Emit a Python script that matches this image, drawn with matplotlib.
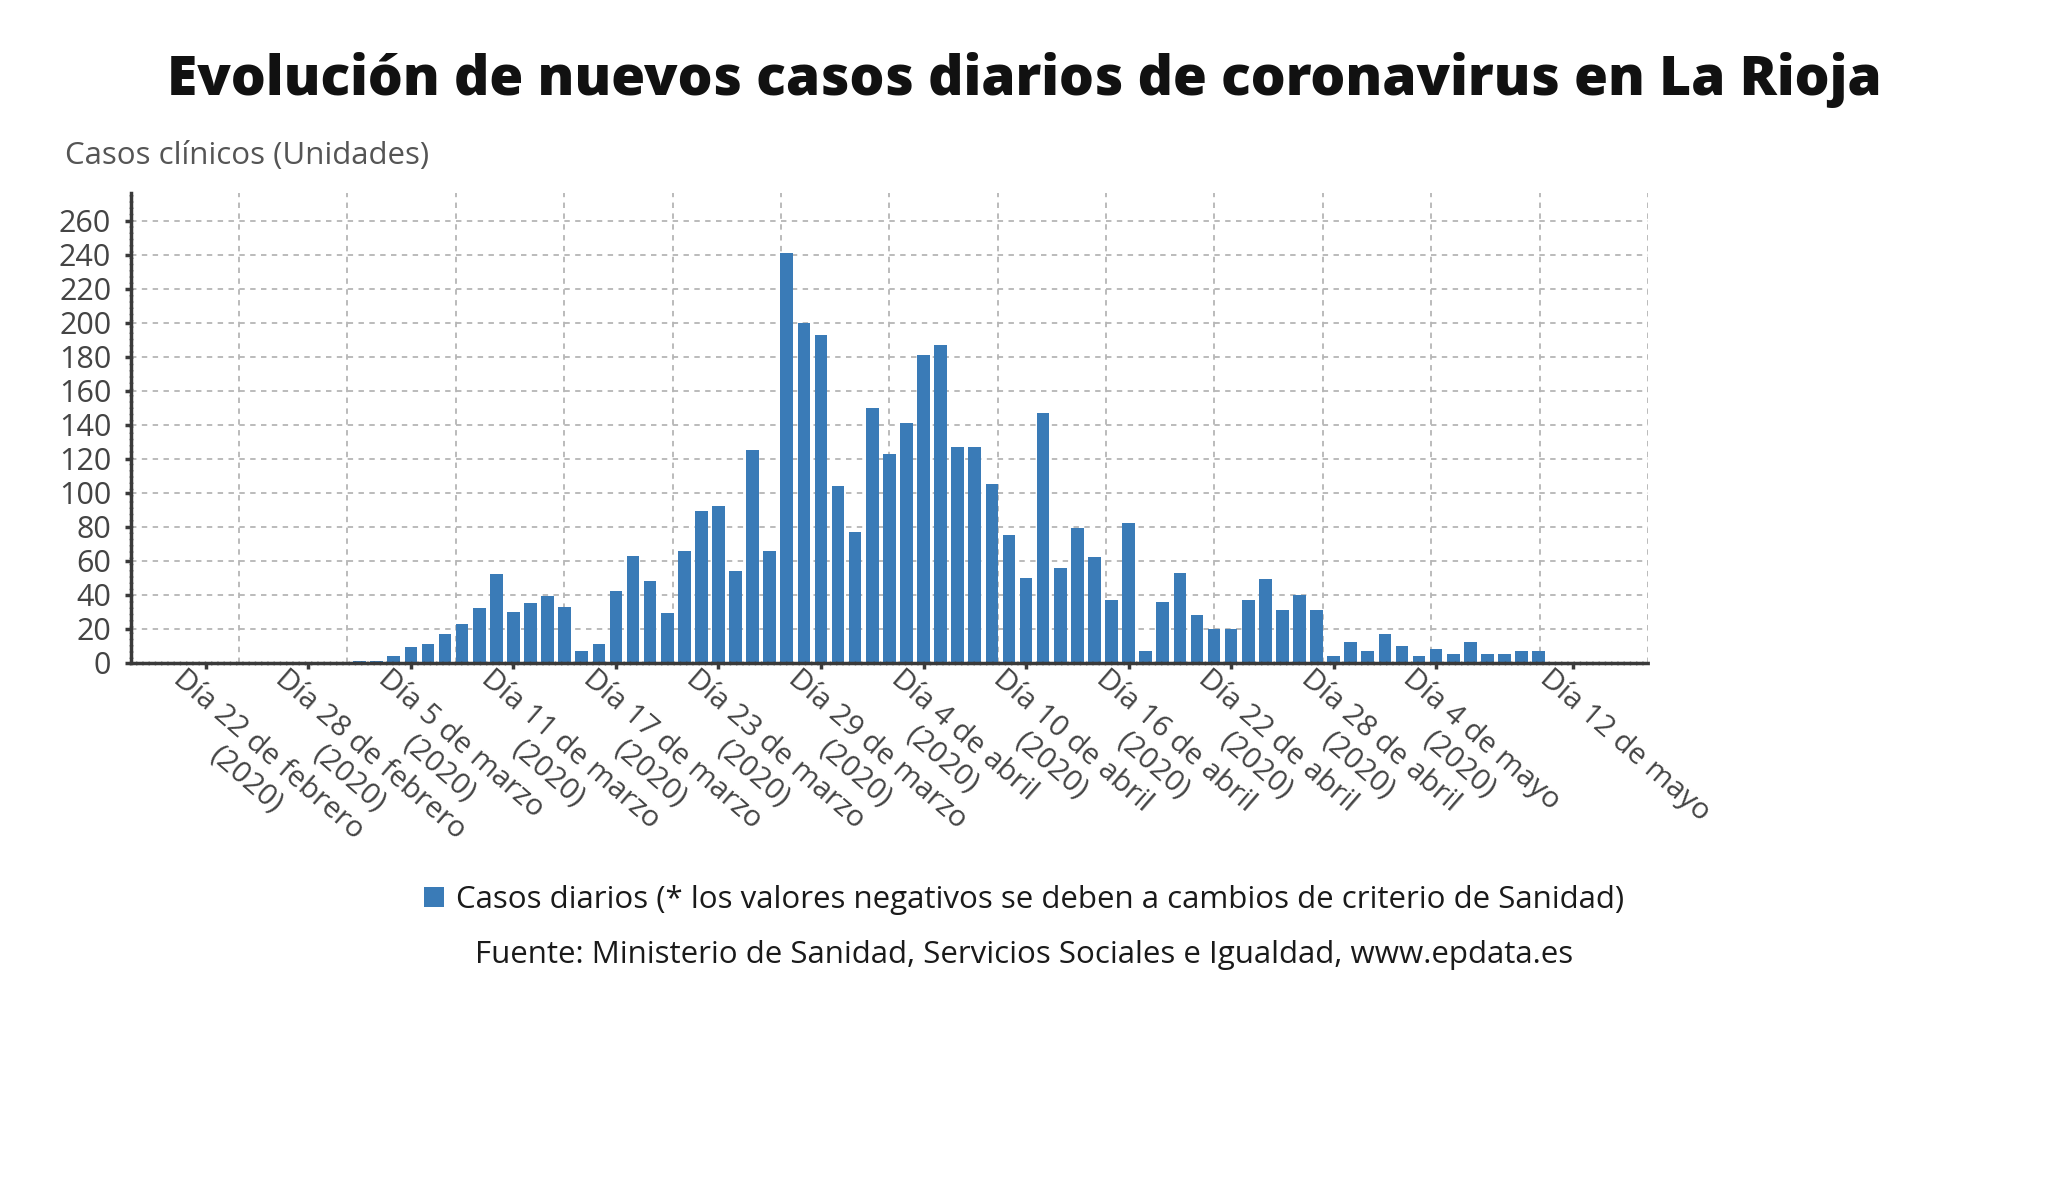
import matplotlib
matplotlib.use("Agg")
import matplotlib.pyplot as plt
from matplotlib.patches import Patch
import numpy as np
import pandas as pd

plt.rcParams['font.family'] = ['Open Sans', 'DejaVu Sans']

# ---------------- data ----------------
start_date = "2020-02-22"
end_date = "2020-05-10"
feb_values = [0, 0, 0, 0, 0, 0, 0, 0]                      # 22-29 Feb
mar_values = [0, 1, 1, 4, 9, 11, 17, 23, 32, 52, 30, 35, 39, 33, 7, 11,
              42, 63, 48, 29, 66, 89, 92, 54, 125, 66, 241, 200, 193, 104, 77]
apr_values = [150, 123, 141, 181, 187, 127, 127, 105, 75, 50, 147, 56, 79, 62, 37,
              82, 7, 36, 53, 28, 20, 20, 37, 49, 31, 40, 31, 4, 12, 7]
may_values = [17, 10, 4, 8, 5, 12, 5, 5, 7, 7]

tick_dates = ["2020-02-22", "2020-02-28", "2020-03-05", "2020-03-11", "2020-03-17",
              "2020-03-23", "2020-03-29", "2020-04-04", "2020-04-10", "2020-04-16",
              "2020-04-22", "2020-04-28", "2020-05-04", "2020-05-12"]
tick_labels = ["Día 22 de febrero\n(2020)", "Día 28 de febrero\n(2020)",
               "Día 5 de marzo\n(2020)", "Día 11 de marzo\n(2020)",
               "Día 17 de marzo\n(2020)", "Día 23 de marzo\n(2020)",
               "Día 29 de marzo\n(2020)", "Día 4 de abril\n(2020)",
               "Día 10 de abril\n(2020)", "Día 16 de abril\n(2020)",
               "Día 22 de abril\n(2020)", "Día 28 de abril\n(2020)",
               "Día 4 de mayo\n(2020)", "Día 12 de mayo"]
y_ticks = list(range(0, 261, 20))

title = "Evolución de nuevos casos diarios de coronavirus en La Rioja"
y_title = "Casos clínicos (Unidades)"
legend_label = "Casos diarios (* los valores negativos se deben a cambios de criterio de Sanidad)"
source = "Fuente: Ministerio de Sanidad, Servicios Sociales e Igualdad, www.epdata.es"

# ---------------- derived ----------------
dates = pd.date_range(start_date, end_date, freq="D")
values = feb_values + mar_values + apr_values + may_values
origin = pd.Timestamp(start_date)
x = np.array([(d - origin).days for d in dates])
tick_x = [(pd.Timestamp(d) - origin).days for d in tick_dates]

BAR = "#3a7bb7"
GRID = "#b5b5b5"
AXIS = "#3a3a3a"
TXT = "#444444"

fig = plt.figure(figsize=(20.48, 12.03), dpi=100)
ax = fig.add_axes([0.0638, 0.4491, 0.7409, 0.3907])

ax.bar(x, values, width=0.74, color=BAR, zorder=3)

xlim = (-4.4, 84.4)
ax.set_xlim(*xlim)
ax.set_ylim(0, 276.6)

ax.set_yticks(y_ticks)
ax.set_yticklabels([str(v) for v in y_ticks])
ax.set_xticks(tick_x)
ax.set_xticklabels([])
ax.set_xticks(np.linspace(xlim[0], xlim[1], 15), minor=True)

# rotated date labels, anchored at each tick
for tx, lab in zip(tick_x, tick_labels):
    ax.annotate(lab, xy=(tx, 0), xycoords=("data", "axes fraction"),
                xytext=(-14, -1), textcoords="offset points",
                rotation=-41, rotation_mode="anchor", ha="left", va="top",
                multialignment="center", fontsize=21.5, color=TXT,
                annotation_clip=False)

ax.grid(False)
ax.yaxis.grid(True, which="major", color=GRID, linestyle=(0, (3, 3)), linewidth=1.3, zorder=0)
ax.xaxis.grid(True, which="minor", color=GRID, linestyle=(0, (3, 3)), linewidth=1.3, zorder=0)
ax.set_axisbelow(True)

ax.tick_params(axis="x", which="minor", length=0)
ax.tick_params(axis="x", which="major", length=4, width=2.5, color=AXIS)
ax.tick_params(axis="y", which="major", length=4, width=2.5, color=AXIS, pad=10,
               labelsize=22, labelcolor=TXT)

for s in ("top", "right"):
    ax.spines[s].set_visible(False)
for s in ("left", "bottom"):
    ax.spines[s].set_color(AXIS)
    ax.spines[s].set_linewidth(2.5)
    ax.spines[s].set_linestyle((0, (1.2, 0.6)))
    ax.spines[s].set_zorder(4)

fig.text(0.5, 1 - 80 / 1203, title, ha="center", va="center",
         fontsize=39.6, fontweight="heavy", color="#111111")
fig.text(65 / 2048, 1 - 156 / 1203, y_title, ha="left", va="center",
         fontsize=22.5, color="#555555")

handle = Patch(facecolor=BAR, edgecolor="none")
fig.legend([handle], [legend_label], loc="center", bbox_to_anchor=(0.5, 1 - 900 / 1203),
           frameon=False, fontsize=22.5, handlelength=0.65, handleheight=0.65,
           handletextpad=0.4, labelcolor="#1a1a1a")
fig.text(0.5, 1 - 955 / 1203, source, ha="center", va="center",
         fontsize=22.5, color="#1a1a1a")

fig.savefig("out.png", dpi=100, facecolor="white")
